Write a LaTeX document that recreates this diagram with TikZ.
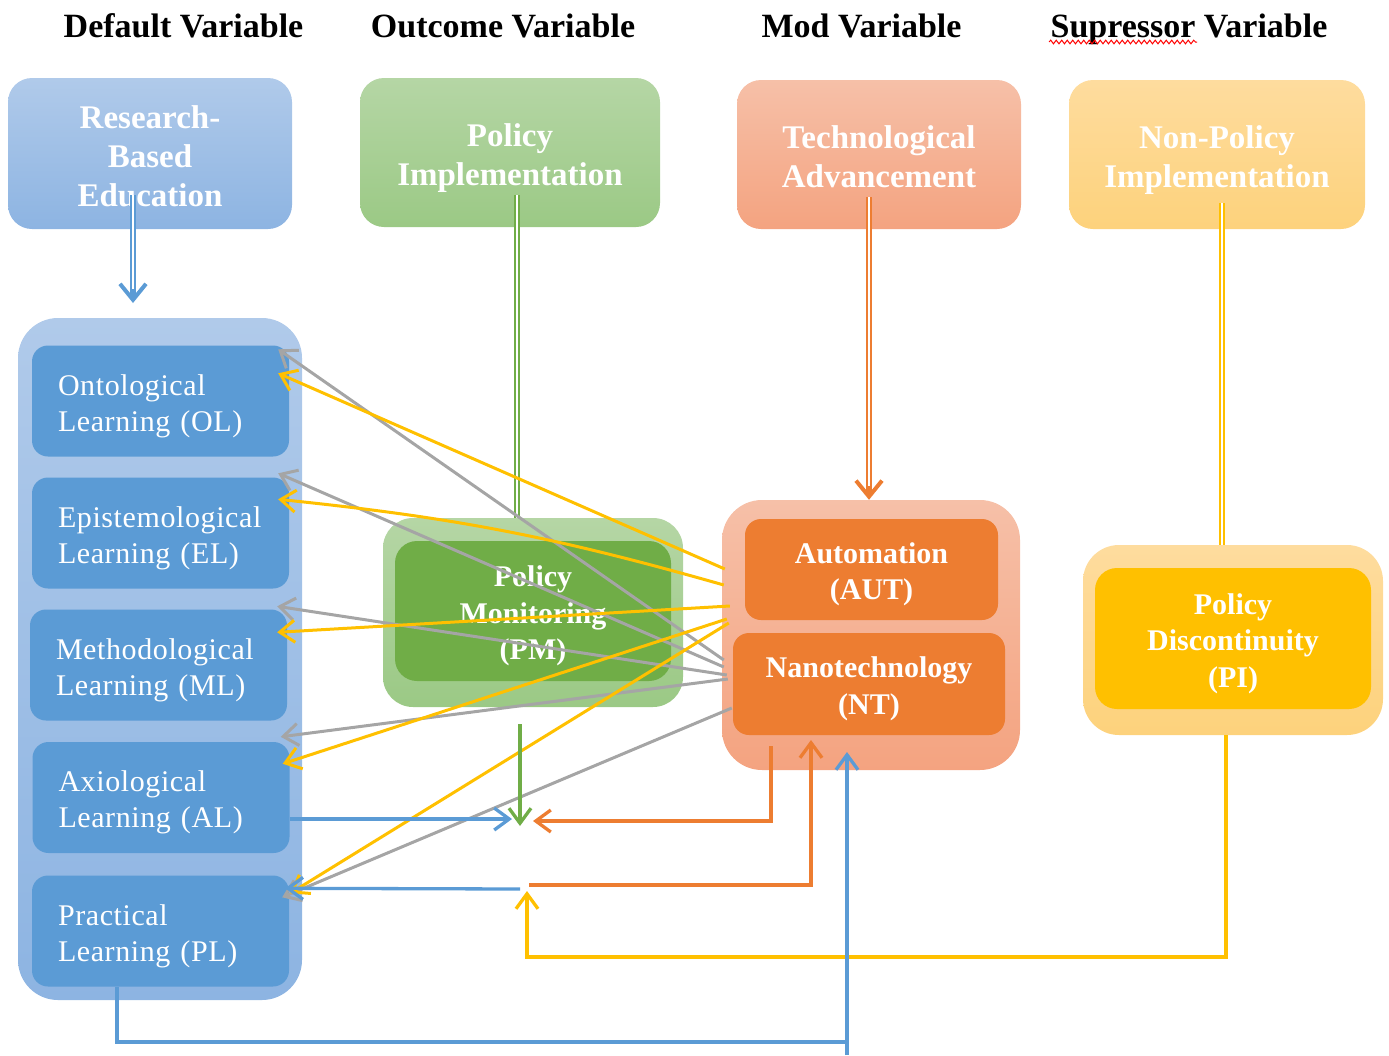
\documentclass[tikz,border=0pt]{standalone}
\usepackage{fontspec}
\setmainfont{Liberation Serif}
\newfontfamily\learnfamily[LetterSpace=2]{Liberation Serif}
\usetikzlibrary{arrows.meta, positioning, decorations.pathmorphing}
\definecolor{BlueMain}{HTML}{5B9BD5}
\definecolor{BlueTop}{HTML}{B0CAEA}
\definecolor{BlueBot}{HTML}{8DB4E2}
\definecolor{GreenMain}{HTML}{70AD47}
\definecolor{GreenTop}{HTML}{B5D6A5}
\definecolor{GreenBot}{HTML}{9BC985}
\definecolor{OrangeMain}{HTML}{ED7D31}
\definecolor{OrangeTop}{HTML}{F6C0A8}
\definecolor{OrangeBot}{HTML}{F4A380}
\definecolor{YellowMain}{HTML}{FFC000}
\definecolor{YellowTop}{HTML}{FEDC9E}
\definecolor{YellowBot}{HTML}{FDD27C}
\definecolor{LineGray}{HTML}{A5A5A5}

\newcommand{\headfont}{\fontsize{34}{38}\selectfont\bfseries}
\newcommand{\topfont}{\fontsize{33}{39}\selectfont\bfseries}
\newcommand{\varfont}{\fontsize{30}{36.5}\selectfont\bfseries}
\newcommand{\learnfont}{\fontsize{30}{36}\learnfamily\selectfont}
% pushes a block of lines a little lower in its box
\newcommand{\sink}[1][1.02em]{\rule{0pt}{#1}}

\tikzset{
  headtxt/.style={font=\headfont, anchor=base},
  topbox/.style={rounded corners=24pt, text=white, font=\topfont, align=center, inner sep=0pt},
  frame/.style={rounded corners=#1, inner sep=0pt},
  learnbox/.style={fill=BlueMain, rounded corners=16pt, text=white, font=\learnfont, align=left,
    text width=205pt, inner xsep=26pt, inner ysep=0pt, minimum height=111pt},
  varbox/.style={rounded corners=16pt, text=white, font=\varfont, align=center, inner sep=0pt},
  link/.style={line width=3pt, -{Straight Barb[length=15pt, width=22pt]}},
  feed/.style={line width=3.3pt},
  tipped/.style={-{Straight Barb[length=15pt, width=22pt]}},
  bigtip/.style={-{Straight Barb[length=16pt, width=26pt, line width=4pt 0 1]}},
  dbl/.style={line width=5.4pt, postaction={draw=white, line width=1.8pt, -, shorten >=#1}},
  dbl/.default=0pt,
}

\begin{document}
\begin{tikzpicture}[x=1pt, y=-1pt]
\useasboundingbox (0,0) rectangle (1389,1055);

% headings
\node[headtxt] (hdef) at (183.5,37) {Default Variable};
\node[headtxt] (hout) at (503,37) {Outcome Variable};
\node[headtxt] (hmod) at (861.5,37) {Mod Variable};
\node[headtxt] (hsup) at (1189,37) {Supressor Variable};
\draw[red, line width=1pt, decorate, decoration={snake, amplitude=1.8pt, segment length=5.5pt}] (1049,42) -- (1197,42);

% top row
\node[topbox, minimum width=284pt, minimum height=151pt, top color=BlueTop, bottom color=BlueBot] (rbe) at (150,153.5) {\sink[0.84em]Research-\\Based\\Education};
\node[topbox, minimum width=300pt, minimum height=149pt, top color=GreenTop, bottom color=GreenBot] (pimp) at (510,152.5) {\sink Policy\\Implementation};
\node[topbox, minimum width=284pt, minimum height=149pt, top color=OrangeTop, bottom color=OrangeBot] (tech) at (879,154.5) {\sink[0.84em]Technological\\Advancement};
\node[topbox, minimum width=296pt, minimum height=149pt, top color=YellowTop, bottom color=YellowBot] (npol) at (1217,154.5) {\sink Non-Policy\\Implementation};

% learning column
\node[frame=40pt, minimum width=284pt, minimum height=682pt, top color=BlueTop, bottom color=BlueBot] (defbox) at (160,659) {};
\node[learnbox] (ol) at (160.5,401) {\sink Ontological\\Learning (OL)};
\node[learnbox] (el) at (160.5,533) {\sink Epistemological\\Learning (EL)};
\node[learnbox] (ml) at (158.5,665) {\sink Methodological\\Learning (ML)};
\node[learnbox] (al) at (161,797.5) {\sink Axiological\\Learning (AL)};
\node[learnbox] (pl) at (160.5,931) {\sink Practical\\Learning (PL)};

% outcome
\node[frame=30pt, minimum width=300pt, minimum height=189pt, top color=GreenTop, bottom color=GreenBot] (pmout) at (533,612.5) {};
\node[varbox, fill=GreenMain, rounded corners=22pt, minimum width=276pt, minimum height=140pt] (pm) at (533,611) {\sink Policy\\Monitoring\\(PM)};

% moderators
\node[frame=40pt, minimum width=298pt, minimum height=270pt, top color=OrangeTop, bottom color=OrangeBot] (modbox) at (871,635) {};
\node[varbox, fill=OrangeMain, minimum width=253pt, minimum height=101pt] (aut) at (871.5,569.5) {\sink Automation\\(AUT)};
\node[varbox, fill=OrangeMain, minimum width=272pt, minimum height=102pt] (nt) at (869,684) {\sink Nanotechnology\\(NT)};

% supressor
\node[frame=36pt, minimum width=300pt, minimum height=190pt, top color=YellowTop, bottom color=YellowBot] (pdout) at (1233,640) {};
\node[varbox, fill=YellowMain, rounded corners=22pt, minimum width=276pt, minimum height=141pt] (pd) at (1233,638.5) {\sink Policy\\Discontinuity\\(PI)};

% double links from the top row
\coordinate (rbeS) at (133,195);
\coordinate (rbeT) at (133,303);
\coordinate (pimpS) at (517,195);
\coordinate (techS) at (869,197);
\coordinate (npolS) at (1222,203);
\draw[dbl=14pt, BlueMain, bigtip] (rbeS) -- (rbeT);
\draw[dbl, GreenMain] (pimpS) -- (pimpS |- pmout.north);
\draw[dbl=14pt, OrangeMain, bigtip] (techS) -- (techS |- modbox.north);
\draw[dbl, YellowMain] (npolS) -- (npolS |- pdout.north);

% moderator links to the learning boxes
\foreach \tgt/\sx/\sy/\tx/\ty in {ol/2/25/-11/4, el/2/32/-11/-4, ml/5/40/-10/-3, al/6/44/-9/-5, pl/10/73/-7/22}
  \draw[link, LineGray] ([shift={(\sx,\sy)}]modbox.west) -- ([shift={(\tx,\ty)}]\tgt.north east);
\foreach \tgt/\sx/\sy/\tx/\ty/\b in {ol/3/-66/-11/28/0, el/2/-50/-11/22/5, ml/8/-29/-10/23/0, al/5/-16/-7/22/0, pl/7/-12/1/18/0}
  \draw[link, YellowMain] ([shift={(\sx,\sy)}]modbox.west) to[bend right=\b] ([shift={(\tx,\ty)}]\tgt.north east);

% feedback lines below
\coordinate (pmS) at (520,724);
\coordinate (hub) at (520,826);
\coordinate (hubW) at (512,819);
\coordinate (hubE) at (533,821);
\coordinate (hubS) at (529,885);
\coordinate (hubL) at (520,889);
\coordinate (hubY) at (527,891);
\coordinate (ntA) at (771,746);
\coordinate (ntB) at (811,740);
\coordinate (ntC) at (847,752);
\coordinate (plS) at (117,987);
\coordinate (pdS) at (1226,735);

\draw[feed, GreenMain, tipped] (pmS) -- (hub);
\draw[feed, BlueMain, tipped] ([shift={(0,21.5)}]al.east) -- (hubW);
\draw[feed, OrangeMain, tipped] (ntA) |- (hubE);
\draw[feed, OrangeMain, tipped] (hubS) -| (ntB);
\draw[feed, BlueMain, tipped] (hubL) -- ([shift={(-4,13)}]pl.north east);
\draw[feed, YellowMain, tipped] (pdS) -- ++(0,222) -| (hubY);
\draw[feed, BlueMain] (plS) -- (117,1042) -- (847,1042);
\draw[feed, BlueMain, tipped] (ntC |- 0,1055) -- (ntC);
\end{tikzpicture}
\end{document}
